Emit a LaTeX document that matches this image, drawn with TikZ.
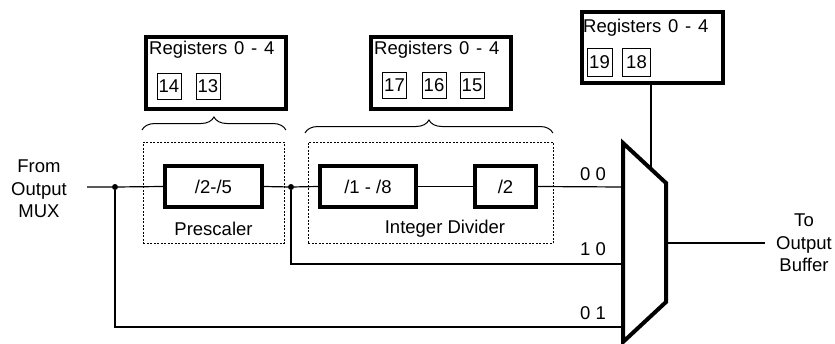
\documentclass[tikz,border=0pt]{standalone}
\usepackage{fontspec}
\setmainfont{Liberation Sans}
\usetikzlibrary{decorations.pathreplacing,calc}
\newcommand{\regfnt}{\fontsize{18.5}{22.5}\selectfont\spaceskip=6.8pt\relax}
\begin{document}
\begin{tikzpicture}[x=1pt,y=-1pt,
  font=\fontsize{18.5}{22.5}\selectfont,
  thickbox/.style={draw, line width=4pt, minimum height=41pt, inner sep=0pt},
  regbox/.style={draw, line width=4pt, inner sep=0pt, anchor=north west},
  regtext/.style={anchor=west, inner sep=0pt, font=\regfnt},
  bitbox/.style={draw, line width=0.8pt, minimum width=24pt, minimum height=26pt, inner sep=0pt},
  dotbox/.style={draw, line width=0.9pt, dash pattern=on 2pt off 1.5pt, anchor=north west, inner sep=0pt},
  wire/.style={line width=1.2pt},
  jdot/.style={circle, fill, inner sep=0pt, minimum size=6pt},
  brc/.style={decorate, decoration={brace, amplitude=13pt}, line width=1pt},
  muxline/.style={line width=4pt, line join=miter}]
\useasboundingbox (0,0) rectangle (835,343);

% dotted groups
\node[dotbox, minimum width=141pt, minimum height=101pt] (pbox) at (143,142) {};
\node[dotbox, minimum width=245pt, minimum height=101pt] (dbox) at (308,142) {};
\node (plab) at (213.5,229) {Prescaler};
\node (dlab) at (445,229) {Integer Divider};

% blocks
\node[thickbox, minimum width=97pt] (b1) at (213.5,186.5) {/2-/5};
\node[thickbox, minimum width=96pt] (b2) at (368,186.5) {/1 - /8};
\node[thickbox, minimum width=61pt] (b3) at (505.5,186.5) {/2};

% register boxes
\node[regbox, minimum width=140pt, minimum height=72pt] (r1) at (144,35) {};
\node[regbox, minimum width=140pt, minimum height=72pt] (r2) at (369,35) {};
\node[regbox, minimum width=141pt, minimum height=71pt] (r3) at (580,10) {};
\node[regtext] (r1t) at (149,50) {Registers 0 - 4};
\node[regtext] (r2t) at (374,50) {Registers 0 - 4};
\node[regtext] (r3t) at (583,28) {Registers 0 - 4};
\node[bitbox] (k14) at (169,86) {14};
\node[bitbox] (k13) at (208,86) {13};
\node[bitbox] (k17) at (394.5,85) {17};
\node[bitbox] (k16) at (434,85) {16};
\node[bitbox] (k15) at (472,85) {15};
\node[bitbox, minimum width=25pt, minimum height=28pt] (k19) at (599.5,62.5) {19};
\node[bitbox, minimum width=28pt, minimum height=28pt] (k18) at (636.5,62.5) {18};

% braces
\coordinate (bl1) at ($(pbox.north west)+(-1,-12)$);
\coordinate (br1) at ($(pbox.north east)+(1,-12)$);
\draw[brc] (bl1) -- (br1);
\coordinate (bl2) at ($(dbox.north west)+(-3,-9)$);
\coordinate (br2) at ($(dbox.north east)+(-1,-9)$);
\draw[brc] (bl2) -- (br2);

% mux
\coordinate (mtl) at (623,143);
\coordinate (mtr) at (666,183);
\coordinate (mbr) at (666,302);
\coordinate (mbl) at (623,342);
\draw[muxline] (mtl) -- (mtr) -- (mbr) -- (mbl) -- cycle;
\coordinate (m00) at (623,187);
\coordinate (m10) at (623,264);
\coordinate (m01) at (623,327);
\coordinate (sel) at (651,169);
\coordinate (mout) at (666,243);
\coordinate (oend) at (765,243);
\node (l00) at (593,174) {0 0};
\node (l10) at (593,249) {1 0};
\node (l01) at (593,313) {0 1};

% text
\node[align=center] (from) at (39,189) {From\\Output\\MUX};
\node[align=center] (to) at (804,243) {To\\Output\\Buffer};

% wires
\coordinate (inp) at (87,187);
\node[jdot] (d1) at (115,187) {};
\node[jdot] (d2) at (291,187) {};
\draw[wire] (inp) -- (d1) -- (b1.west);
\draw[wire] (b1.east) -- (d2) -- (b2.west);
\draw[wire] (b2) -- (b3);
\draw[wire] (b3.east) -- (m00);
\draw[wire] (d2) |- (m10);
\draw[wire] (d1) |- (m01);
\draw[wire] (sel |- r3.south) -- (sel);
\draw[wire] (mout) -- (oend);
\end{tikzpicture}
\end{document}
